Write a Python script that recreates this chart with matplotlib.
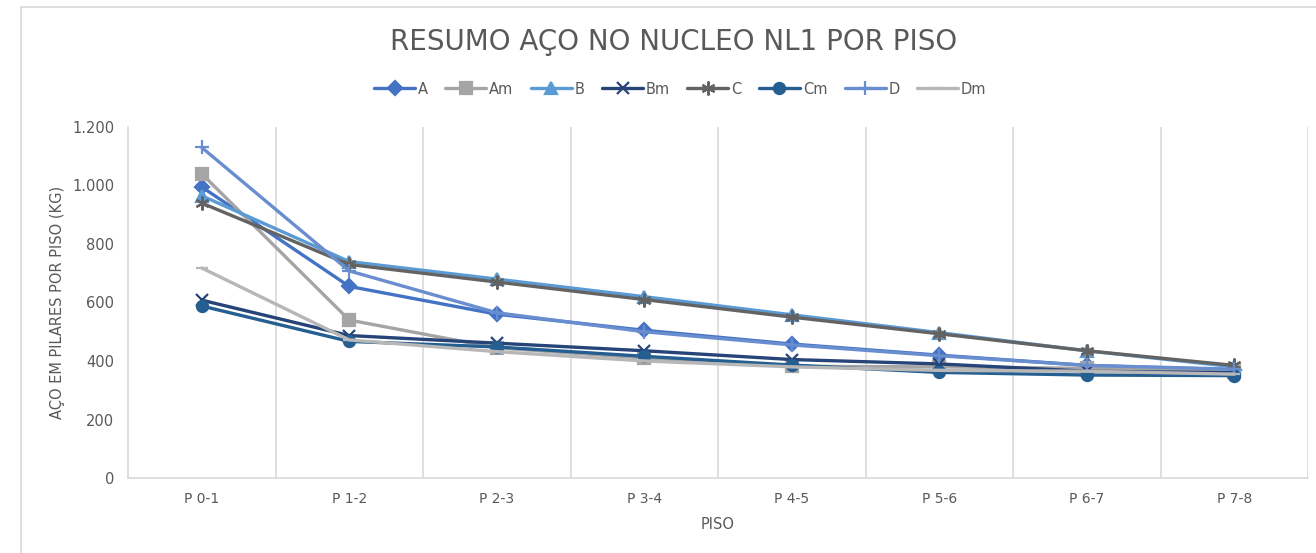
import numpy as np
import matplotlib.pyplot as plt
from matplotlib.patches import Rectangle

pisos = ['P 0-1', 'P 1-2', 'P 2-3', 'P 3-4', 'P 4-5', 'P 5-6', 'P 6-7', 'P 7-8']

A  = [995, 655, 560, 505, 458, 420, 385, 370]
Am = [1040, 540, 445, 410, 382, 380, 375, 365]
B  = [965, 740, 680, 620, 558, 497, 435, 380]
Bm = [608, 487, 461, 435, 405, 390, 365, 360]
C  = [940, 730, 670, 610, 550, 493, 435, 385]
Cm = [588, 467, 448, 416, 386, 361, 352, 350]
D  = [1130, 708, 565, 500, 455, 418, 385, 372]
Dm = [718, 472, 432, 400, 380, 368, 365, 355]

series = [
    ('A', A, '#4472C4', 'D', 7),
    ('Am', Am, '#A5A5A5', 's', 8),
    ('B', B, '#5B9BD5', '^', 8),
    ('Bm', Bm, '#264478', 'x', 8),
    ('C', C, '#636363', (6, 2, 0), 10),
    ('Cm', Cm, '#255E91', 'o', 8),
    ('D', D, '#698ED0', '+', 10),
    ('Dm', Dm, '#B7B7B7', '_', 8),
]

fig = plt.figure(figsize=(13.16, 5.53), dpi=100)
ax = fig.add_axes([128 / 1316, 1 - 478 / 553, 1180 / 1316, 351 / 553])

# chart area border (cropped on the right and bottom)
fig.patches.append(Rectangle((21 / 1316, -0.05), 1.2, 1 - 7 / 553 + 0.05,
                             transform=fig.transFigure, fill=False,
                             edgecolor='#D9D9D9', lw=1.2))

x = np.arange(len(pisos))
for name, vals, color, marker, ms in series:
    ax.plot(x, vals, color=color, lw=2.4, marker=marker, markersize=ms,
            markeredgewidth=1.6, label=name, solid_capstyle='round')

ax.set_xlim(-0.5, len(pisos) - 0.5)
ax.set_ylim(0, 1200)
ax.set_yticks(range(0, 1201, 200))
ax.set_yticklabels(['0', '200', '400', '600', '800', '1.000', '1.200'])
ax.set_xticks(x)
ax.set_xticklabels(pisos)
for b in np.arange(0.5, len(pisos), 1.0):
    ax.axvline(b, color='#D9D9D9', lw=1.2, zorder=0)

for s in ['top', 'right']:
    ax.spines[s].set_visible(False)
for s in ['left', 'bottom']:
    ax.spines[s].set_color('#D9D9D9')
    ax.spines[s].set_linewidth(1.2)
ax.tick_params(length=0, colors='#595959', labelsize=10.5, pad=10)
for lab in ax.get_xticklabels():
    lab.set_fontsize(10)

ax.set_ylabel('AÇO EM PILARES POR PISO (KG)', color='#595959', fontsize=10.5, labelpad=5)
ax.set_xlabel('PISO', color='#595959', fontsize=10.5, labelpad=8)

fig.text(0.512, 1 - 42 / 553, 'RESUMO AÇO NO NUCLEO NL1 POR PISO', ha='center', va='center',
         fontsize=20, color='#595959')

leg = fig.legend(loc='center', bbox_to_anchor=(0.517, 1 - 89 / 553), ncol=8, frameon=False,
                 fontsize=10.5, handlelength=2.8, columnspacing=1.2, handletextpad=0.2)
for t in leg.get_texts():
    t.set_color('#595959')

fig.savefig('out.png', dpi=100)
